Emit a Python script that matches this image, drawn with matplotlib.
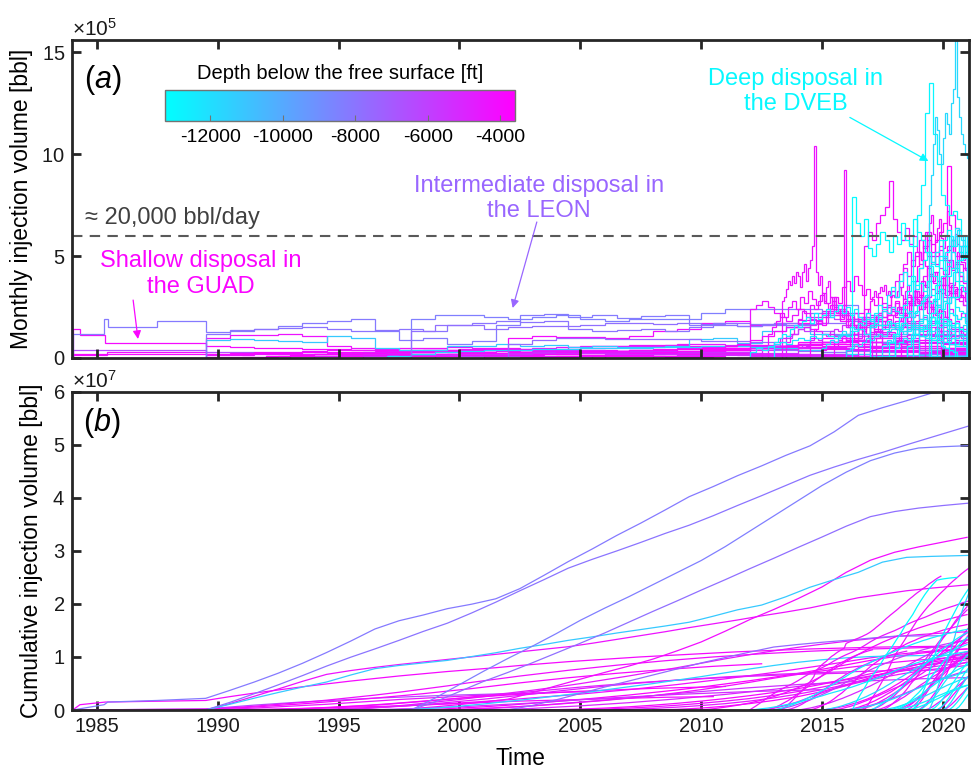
import numpy as np
import matplotlib
matplotlib.use("Agg")
import matplotlib.pyplot as plt
from matplotlib.colors import Normalize
from matplotlib.cm import ScalarMappable
from matplotlib.ticker import ScalarFormatter, MultipleLocator

plt.rcParams['font.family'] = ['Liberation Sans', 'DejaVu Sans']
plt.rcParams['mathtext.fontset'] = 'custom'
plt.rcParams['mathtext.rm'] = 'Liberation Sans'
plt.rcParams['mathtext.it'] = 'Liberation Sans:italic'
plt.rcParams['axes.unicode_minus'] = False

UNIT = 1e4          # all volumes below: 10^4 bbl per month
DATA_END = 2021.08  # last reported month

# ---------------- records before 1990 (edges [yr], monthly rate, reported volume)
a_early_edges = [1984.0, 1985.3, 1985.45, 1987.5, 1989.5]
a_early_rates = [12, 19, 15, 18]
a_early_vol = [100, 50, 30, 40]
g1_early_edges = [1984.0, 1984.3, 1985.35, 1989.5]
g1_early_rates = [14, 11.5, 7.5]
g1_early_vol = [100, 50, 30]
g2_early_edges = [1984.0, 1989.5]
g2_early_rates = [4]
g2_early_vol = [20]
g3_early_edges = [1984.0, 1985.4, 1989.5]
g3_early_rates = [1.5, 2.8]
g3_early_vol = [5, 12]
g4_early_edges = [1984.0, 1989.5]
g4_early_rates = [2]
g4_early_vol = [8]

# ---------------- LEON (intermediate) wells, yearly values
leon_a = [12.5, 13, 14, 15.5, 17, 18, 19, 13, 9, 10, 7, 8.5, 16, 21, 21.5, 20, 21, 19.5,
          20.5, 21, 16, 17, 15.5, 16.5, 15, 22, 26, 12, 11, 11.5, 4]
leon_b = [12, 13.5, 14, 14.5, 15, 14, 13, 13.5, 14, 13, 16, 17, 18, 17.5, 18, 14, 13, 13.5,
          14, 13, 15, 16, 15.5, 16, 16, 13, 12, 11, 12, 11.5, 11.5, 11.5]
leon_c = [19, 21, 21, 20, 19, 20, 21, 19, 18, 19, 19, 19, 22, 24, 24, 24, 24, 21, 18, 12,
          8, 2, 1.5, 1.5]
leon_d = [13, 16, 16, 14, 15, 15.5, 15.5, 16, 17, 17, 16.5, 17, 16.5, 17, 16.5, 17, 16.5,
          17, 15, 8, 5.5, 4, 3.5, 3.5]
leon_e = [7, 9, 10, 10, 9.5, 9.5, 9.5, 9.5, 8.5, 8.5, 8, 4, 3.5, 3, 3.5, 3, 0.5, 0.2]

# ---------------- older deep wells, yearly values
deep_c1 = [9, 9.5, 9, 8.5, 8, 11, 10, 5, 4, 4, 6, 6, 7, 6, 6.5, 5.5, 6, 5.5, 5.5, 6, 9.5,
           10, 7.5, 13, 15, 12, 11.5, 16, 7.5, 1.5, 1, 1]
deep_c2 = [1, 2, 3, 3.5, 4, 4, 4.5, 4.5, 5, 5, 5, 5.5, 5.5, 6, 6, 5.5, 5, 4, 3, 2, 1, 0.5,
           0.5, 0.5, 0.5]

# ---------------- GUAD (shallow) wells, yearly values
guad_m1 = [2, 3, 3.5, 4, 4.5, 10, 11, 10.5, 10.5, 10, 11, 13, 14, 17, 18, 16, 17, 18.5, 23,
           19, 12.5, 8.5, 7.5, 7.5]
guad_m2 = [10, 11.5, 11.5, 12, 11, 6, 5, 4.5, 4, 4, 4, 4, 4, 4, 4, 5.5, 6, 6, 6, 6.5, 6, 6,
           6.5, 6, 6.5, 8, 8, 5.5, 5.5, 4, 3.5, 3.5]
guad_g1 = [6, 5.5, 5, 5, 4.5, 4.5, 4, 4, 3.5, 3.5, 3, 3, 3.5, 3, 3, 2.5, 2.5, 2.5, 2, 2, 2, 2,
           1.5, 1.5, 1.5, 1, 1, 1, 0.5, 0.5, 0.5]
guad_g2 = [3, 3, 2.5, 2.5, 2, 2, 2, 1.5, 1.5, 1.5, 1, 1, 1, 0.5]
guad_g3 = [2, 2.5, 3, 3, 3.5, 4, 4, 4.5, 5, 5, 5.5, 5, 5, 4.5, 4.5, 4, 4, 3.5, 3.5, 3, 3, 2.5,
           2.5, 2, 2, 1.5, 1.5, 1, 1, 1, 1]
guad_g4 = [2, 2, 2.5, 2.5, 3, 3, 3, 3.5, 3.5, 4, 4, 4.5, 4.5, 4, 4, 3.5, 3.5, 3, 3, 2.5, 2.5,
           2, 2]
guad_g6 = [1, 1.5, 2, 2, 2.5, 3, 3, 3.5, 4, 4, 4.5, 5, 5.5, 6, 6, 6.5, 6.5, 7, 7, 6.5, 6, 5.5,
           5, 4.5, 4, 3.5, 3, 2.5, 2]
guad_g7 = [2, 3, 3.5, 4, 4, 4.5, 4, 4, 3.5, 3.5, 3, 3, 2.5, 2.5, 2, 2, 2, 1.5, 1.5, 1, 1]
guad_g8 = [1, 1, 1.5, 1.5, 2, 2, 2, 2.5, 2.5, 3, 3, 3, 3.5, 3.5, 4, 4, 4.5, 4.5, 5, 5, 5.5,
           5.5, 6, 6, 5, 4, 3, 2]
guad_g9 = [1, 2, 2, 2.5, 3, 3, 3, 3.5, 3.5, 4, 4, 4.5, 5, 5, 5.5, 6, 6.5, 7, 7, 6, 5, 4, 3]
guad_g10 = [1, 1.5, 2, 2, 2.5, 2.5, 3, 3, 3.5, 3.5, 4, 4, 4.5, 5, 5.5, 6, 6, 5.5, 5, 4.5]
guad_g11 = [0.5, 1, 1.5, 2, 2.5, 3, 3.5, 4, 5, 6, 7, 8, 9, 8, 7, 6, 5]
guad_g12 = [1, 1.5, 2, 2.5, 3, 4, 5, 6, 7, 8, 9, 10, 9, 8, 7]
guad_g13 = [0.5, 0.5, 0.5, 1, 1, 1, 1, 1, 1.5, 1.5, 1.5, 1.5, 1.5, 1, 1, 1, 1, 1, 1, 0.5, 0.5]
guad_g14 = [1, 2, 3, 4, 5, 6, 8, 10, 12, 11, 10, 9, 8]
guad_g15 = [2, 2, 2.5, 3, 3, 3, 3.5, 3.5, 3.5, 3, 3, 3, 2.5, 2.5, 2, 2, 2, 1.5, 1.5, 1, 1]
guad_g16 = [1.5, 1.5, 2, 2, 2, 2.5, 2.5, 2.5, 2, 2, 2, 1.5, 1.5, 1.5, 1, 1]
guad_g17 = [0.5, 1, 1.5, 2, 2, 2.5, 3, 3, 3, 2.5, 2.5, 2, 2, 2, 1.5, 1.5, 1.5, 1, 1, 1]
guad_g18 = [1, 1.5, 2, 2.5, 3, 3.5, 3.5, 4, 4, 4.5, 4, 4, 3.5, 3, 3, 2.5, 2.5, 2, 2, 1.5, 1.5,
            1, 1, 1, 0.5, 0.5]
guad_g19 = [1, 1.5, 2, 2, 2.5, 3, 3, 3.5, 4, 4.5, 5, 5.5, 6, 6.5, 6, 5.5, 5, 4.5, 4, 3.5, 3,
            2.5]
guad_g20 = [0.5, 1, 1.5, 2, 2.5, 3, 3.5, 4, 4.5, 5, 6, 7, 8, 8.5, 8, 7, 6, 5]
guad_g21 = [1, 1, 1.5, 1.5, 2, 2, 2, 2.5, 2.5, 2.5, 2, 2, 2, 1.5, 1.5, 1.5, 1, 1, 1]

# ---------------- recent shallow wells
guad_s1 = [28, 30, 34, 38, 36, 40, 37, 42,
           40, 35, 42, 46, 38, 44, 48, 55, 104, 42, 36, 40,
           32, 28, 35, 38, 30, 24, 30, 26, 22, 24, 20, 92,
           18, 15, 16, 20, 14, 16, 18, 15, 20, 17, 22, 24,
           28, 30, 33, 30, 32, 35, 33, 36, 31, 33, 30, 31,
           30, 33, 35, 31, 29, 33, 36, 31, 29, 33, 30, 28,
           27, 30, 25, 29, 31, 27, 25, 29, 26, 23, 20]           # monthly
guad_s2 = [55, 62, 58, 66, 70, 74, 87, 68, 62, 58, 64, 56, 60, 52, 48, 45, 40, 42, 38, 36,
           40, 35, 32, 34, 30, 28]                                # bi-monthly
guad_s3 = [24, 26, 28, 25, 22, 20, 18, 21, 24, 22, 19, 17, 20, 23, 21, 18, 16, 19, 22, 24,
           21, 18, 16, 15, 18, 20, 17, 15, 14, 16, 18, 15, 13, 12, 14, 12, 10]  # quarterly
guad_l1 = [6, 10, 9, 14, 13, 17, 16, 20, 19, 23, 21, 25, 28, 24, 27, 30, 26, 33, 31, 27,
           30, 34, 32, 36, 30, 27, 32, 29, 31, 26]
guad_l2 = [12, 18, 22, 27, 25, 33, 38, 35, 44, 40, 48, 52, 46, 55, 50, 47, 52, 44, 41, 48,
           43, 46, 40, 38]
guad_l3 = [18, 26, 33, 30, 41, 46, 52, 45, 50, 58, 54, 62, 56, 50, 55, 48, 53, 58, 50, 46,
           44]
guad_l4 = [4, 6, 5, 8, 9, 8, 11, 12, 10, 14, 13, 16, 15, 17, 19, 18, 21, 23, 22, 25, 24, 27,
           26, 29, 27, 25, 28, 24, 22, 24, 20, 19, 17, 18, 15, 14]
guad_l5 = [8, 14, 20, 18, 27, 33, 30, 40, 44, 38, 42, 36, 40, 33, 30, 34, 28, 26]
guad_l6 = [10, 13, 12, 16, 19, 22, 20, 25, 23, 27, 24, 29, 31, 28, 26, 24, 27, 22, 25, 21,
           19, 17, 18, 15, 14, 13, 11]
guad_l7 = [20, 30, 38, 44, 52, 58, 50, 46, 53, 49, 55, 44, 47, 40, 37]
guad_l8 = [5, 7, 6, 9, 10, 9, 12, 11, 13, 14, 13, 16, 15, 17, 16, 18, 19, 17, 20, 19, 21, 20,
           22, 21, 23, 22, 21, 22, 20, 21, 19, 20, 18, 17, 18, 16, 15, 16, 14, 13, 12, 12]
guad_l9 = [28, 36, 45, 52, 58, 62, 66, 94, 70, 64, 60, 55, 50]
guad_l10 = [5, 6, 8, 10, 11, 12, 14, 15, 14, 13, 12, 12, 11, 10, 10, 9, 9, 8, 8, 8, 7, 7, 7,
            6, 6, 6, 5, 5, 5, 5, 4, 4, 4, 4]                      # quarterly
guad_l11 = [4, 5, 6, 7, 9, 11, 13, 15, 17, 20, 22, 24, 22, 20, 18, 16, 15, 14, 12, 11, 10, 9]
guad_l12 = [10, 14, 18, 16, 21, 25, 22, 28, 26, 30, 27, 24, 28, 25, 22, 26, 23, 20, 24, 21,
            19, 22, 18]
guad_l13 = [15, 22, 28, 33, 30, 38, 35, 41, 37, 33, 39, 36, 32, 35, 30, 33, 28]
guad_l14 = [12, 20, 28, 26, 34, 31, 37, 33, 30, 35, 32]
guad_l15 = [6, 8, 11, 9, 13, 12, 15, 14, 17, 16, 14, 18, 16, 19, 17, 15, 18, 16, 14, 17, 15,
            13, 16, 14, 12, 15, 13, 11, 14, 12, 10, 12, 11]
guad_l16 = [20, 32, 41, 48, 44, 52, 47, 43]
guad_l17 = [5, 7, 9, 8, 11, 13, 12, 15, 14, 16, 15, 17, 16, 14, 15, 13, 12, 13, 11, 10]
guad_l18 = [18, 30, 36, 42, 38, 44]
guad_l19 = [12, 15, 18, 22, 20, 25, 28, 24, 30, 27, 33, 29, 26, 31, 27, 24, 28, 22, 19, 23,
            18, 16, 14, 15, 12, 10]
guad_l20 = [8, 12, 15, 19, 23, 20, 26, 24, 28, 32, 27, 30, 25, 22, 26, 21, 18, 22, 19, 16,
            18, 15, 13, 14, 12, 11, 12, 10, 9, 8]
guad_l21 = [10, 14, 18, 16, 22, 26, 30, 27, 35, 38, 33, 40, 36, 31, 34, 29, 26, 30, 25, 22,
            24, 20, 18, 21, 17, 15, 18, 14, 13, 15, 12, 11, 13, 10, 9, 11, 8, 7, 8]
guad_l22 = [6, 8, 10, 12, 14, 13, 16, 18, 17, 20, 19, 22, 21, 19, 18, 20, 17, 16, 15, 17,
            14, 13, 12, 14, 11, 10, 9, 10, 8, 7, 6, 6]             # quarterly
guad_l23 = [30, 38, 45, 52, 48, 58, 62, 55, 66, 70, 61, 57, 64, 68, 59, 54, 60, 72, 65, 58,
            52, 61, 56, 50, 55, 48, 52, 46]                        # monthly

# ---------------- DVEB (deep) wells
dveb_1 = [79, 66, 60, 68, 54, 50, 56, 62, 58, 52, 60, 56, 66, 58, 55, 68, 62, 58, 52, 45, 40,
          8, 6, 5, 4, 3]                                          # bi-monthly
dveb_2 = [55, 70, 85, 120, 135, 110, 95, 80, 75, 70, 72, 68, 60, 55]  # bi-monthly
dveb_3 = [75, 90, 105, 118, 112, 100, 95, 108, 120, 115, 110, 125, 132, 160, 128, 118, 110,
          105, 100, 98]                                           # monthly
dveb_4 = [16, 22, 26, 24, 31, 35, 30, 38, 42, 36, 40, 34, 37, 33, 38, 31, 29, 34, 28, 27,
          30, 25, 23, 22]
dveb_5 = [12, 20, 26, 33, 38, 36, 44, 48, 52, 47, 45, 50, 43, 40, 44, 38, 36, 33]
dveb_6 = [18, 30, 38, 46, 52, 58, 50, 47, 52, 44, 42, 38]
dveb_7 = [8, 12, 14, 17, 20, 23, 22, 26, 28, 31, 27, 29, 26, 24, 27, 22, 21, 19, 20, 17]
dveb_8 = [22, 36, 48, 58, 63, 55, 60, 52, 49]
dveb_9 = [28, 45, 58, 64, 55, 60]
dveb_10 = [6, 10, 12, 15, 14, 18, 20, 17, 22, 19, 18, 16, 17, 14, 13]
dveb_11 = [30, 42, 48, 55, 50]
dveb_12 = [4, 5, 7, 6, 8, 10, 9, 11, 12, 11, 13, 14, 16, 15, 17, 16, 18, 16, 15, 16, 14, 13,
           14, 12, 13, 11, 12, 10, 11, 9]
dveb_13 = [3, 5, 4, 6, 7, 8, 7, 9, 10, 9, 11, 10, 12, 11, 10, 12, 11, 13, 14, 12, 15, 16, 14,
           17, 15, 13, 14, 12, 11, 10, 9, 10, 8, 7, 6, 6]          # quarterly
dveb_14 = [25, 40, 52, 60, 55, 63, 58, 52]
dveb_15 = [30, 48, 55, 50]
dveb_16 = [5, 8, 10, 9, 12, 14, 13, 15, 17, 16, 18, 15, 17, 14, 13, 15, 12, 11]
dveb_17 = [6, 9, 8, 11, 13, 12, 14, 16, 15, 17, 19, 18, 20, 18, 17, 19, 16, 15, 17, 14, 13]
dveb_18 = [8, 10, 12, 11, 14, 16, 15, 18, 20, 17, 22, 19, 21, 24, 20, 23, 26, 22, 25, 21, 24,
           20, 18, 22, 19, 17, 20, 16, 18, 15, 17, 14, 16, 13, 15, 12, 14, 11, 13, 10, 12, 9,
           11, 8, 10, 7, 9, 6]
dveb_19 = [5, 7, 9, 8, 11, 13, 12, 15, 14, 17, 16, 19, 18, 21, 20, 23, 22, 25, 23, 21, 24, 22,
           20, 23, 19, 21, 18, 20, 17, 19, 16, 18, 15, 17, 14, 16]

# well table: (depth below free surface [ft], first year, months per value, values, early records)
wells = [
    (-4000, 1989.5, 12, guad_g1, (g1_early_edges, g1_early_rates, g1_early_vol)),
    (-6500, 1989.5, 12, guad_g2, (g2_early_edges, g2_early_rates, g2_early_vol)),
    (-4200, 1989.5, 12, guad_g3, (g3_early_edges, g3_early_rates, g3_early_vol)),
    (-3900, 1989.5, 12, guad_g4, (g4_early_edges, g4_early_rates, g4_early_vol)),
    (-4500, 1992.0, 12, guad_g6, None),
    (-4800, 1995.0, 12, guad_g7, None),
    (-4100, 1993.0, 12, guad_g8, None),
    (-3700, 1998.0, 12, guad_g9, None),
    (-5000, 2001.0, 12, guad_g10, None),
    (-4300, 2004.0, 12, guad_g11, None),
    (-4600, 2006.0, 12, guad_g12, None),
    (-4000, 1989.5, 12, guad_g13, None),
    (-3800, 2008.0, 12, guad_g14, None),
    (-5500, 2000.0, 12, guad_g15, None),
    (-4400, 1989.5, 12, guad_g16, None),
    (-3800, 1991.0, 12, guad_g17, None),
    (-4700, 1994.0, 12, guad_g18, None),
    (-4100, 1999.0, 12, guad_g19, None),
    (-3900, 2003.0, 12, guad_g20, None),
    (-5300, 1996.0, 12, guad_g21, None),
    (-4300, 1989.5, 12, guad_m2, None),
    (-4100, 1997.0, 12, guad_m1, None),
    (-11200, 1989.5, 12, deep_c1, None),
    (-11500, 1997.0, 12, deep_c2, None),
    (-8200, 1989.5, 12, leon_a, (a_early_edges, a_early_rates, a_early_vol)),
    (-8000, 1989.5, 12, leon_b, None),
    (-8400, 1998.0, 12, leon_c, None),
    (-7800, 1998.0, 12, leon_d, None),
    (-7600, 2002.0, 12, leon_e, None),
    (-4000, 2010.0, 6, guad_l11, None),
    (-4500, 2012.5, 3, guad_l10, None),
    (-4400, 2012.0, 3, guad_s3, None),
    (-5800, 2013.0, 3, guad_l22, None),
    (-5600, 2016.0, 3, guad_l17, None),
    (-4200, 2012.75, 2, guad_l19, None),
    (-4500, 2013.5, 2, guad_l20, None),
    (-5200, 2014.0, 2, guad_l8, None),
    (-3900, 2014.5, 2, guad_l21, None),
    (-3800, 2015.0, 2, guad_l4, None),
    (-4200, 2015.5, 2, guad_l15, None),
    (-4000, 2016.0, 2, guad_l1, None),
    (-4400, 2016.5, 2, guad_l6, None),
    (-4600, 2017.0, 2, guad_l2, None),
    (-4700, 2017.25, 2, guad_l12, None),
    (-4200, 2017.5, 2, guad_l3, None),
    (-4800, 2018.0, 2, guad_l5, None),
    (-3900, 2018.25, 2, guad_l13, None),
    (-4100, 2018.5, 2, guad_l7, None),
    (-4100, 2018.75, 1, guad_l23, None),
    (-3700, 2019.0, 2, guad_l9, None),
    (-4900, 2019.25, 2, guad_l14, None),
    (-4000, 2019.75, 2, guad_l16, None),
    (-4300, 2020.0, 2, guad_l18, None),
    (-4300, 2013.33, 1, guad_s1, None),
    (-4100, 2016.75, 2, guad_s2, None),
    (-12200, 2012.0, 3, dveb_13, None),
    (-12500, 2013.0, 2, dveb_18, None),
    (-11700, 2015.0, 2, dveb_19, None),
    (-11500, 2016.0, 2, dveb_12, None),
    (-11900, 2017.5, 2, dveb_17, None),
    (-12400, 2018.0, 2, dveb_16, None),
    (-13100, 2018.5, 2, dveb_10, None),
    (-12800, 2017.75, 2, dveb_7, None),
    (-12600, 2017.0, 2, dveb_4, None),
    (-13000, 2018.0, 2, dveb_5, None),
    (-12300, 2019.0, 2, dveb_6, None),
    (-13200, 2019.5, 2, dveb_8, None),
    (-12700, 2019.75, 2, dveb_14, None),
    (-12000, 2020.0, 2, dveb_9, None),
    (-12500, 2020.25, 2, dveb_11, None),
    (-13000, 2020.5, 2, dveb_15, None),
    (-13100, 2016.25, 2, dveb_1, None),
    (-12900, 2018.75, 2, dveb_2, None),
    (-11800, 2019.42, 1, dveb_3, None),
]

DEPTH_MIN, DEPTH_MAX = -13250, -3600
YEAR_TICKS = [1985, 1990, 1995, 2000, 2005, 2010, 2015, 2020]
DEPTH_TICKS = [-12000, -10000, -8000, -6000, -4000]
RATE_LINE = 20000 * 30   # ~20,000 bbl/day expressed per month


def well_series(start, hold, values, early):
    """Step edges, monthly rates and per-step volumes for one well."""
    vals = np.asarray(values, float)
    edges = start + np.arange(len(vals) + 1) * hold / 12.0
    vols = vals * hold
    if edges[-1] > DATA_END:
        frac = (DATA_END - edges[-2]) / (edges[-1] - edges[-2])
        edges[-1] = DATA_END
        vols[-1] *= frac
    if early is not None:
        e_edges, e_rates, e_vols = early
        edges = np.concatenate([e_edges[:-1], edges])
        vals = np.concatenate([e_rates, vals])
        vols = np.concatenate([e_vols, vols])
    return edges, vals * UNIT, vols * UNIT


class FixedOrderFormatter(ScalarFormatter):
    """Scalar formatter with a fixed power-of-ten multiplier."""

    def __init__(self, order):
        super().__init__(useMathText=True)
        self._fixed_order = order

    def _set_order_of_magnitude(self):
        self.orderOfMagnitude = self._fixed_order


cmap = plt.get_cmap('cool')
norm = Normalize(DEPTH_MIN, DEPTH_MAX)

fig = plt.figure(figsize=(9.74, 7.73), dpi=100)
ax_a = fig.add_axes([0.0739, 0.5369, 0.9210, 0.4114])
ax_b = fig.add_axes([0.0739, 0.0815, 0.9210, 0.4114])

for depth, start, hold, values, early in wells:
    edges, rates, vols = well_series(start, hold, values, early)
    col = cmap(norm(depth))
    ax_a.stairs(rates, edges, baseline=0, color=col, lw=0.9)
    cum = np.concatenate([[0.0], np.cumsum(vols)])
    ax_b.plot(edges, cum, color=col, lw=0.9)

ax_a.axhline(RATE_LINE, color='0.35', lw=1.5, ls=(0, (5, 3.5)))

spine_col = '#262626'
for ax, order in ((ax_a, 5), (ax_b, 7)):
    ax.set_xlim(1983.97, 2021.08)
    ax.set_xticks(YEAR_TICKS)
    ax.tick_params(direction='in', length=6.5, width=2.0, top=True, right=True,
                   labelsize=14.5, color=spine_col, labelcolor='#1a1a1a', pad=5)
    for sp in ax.spines.values():
        sp.set_linewidth(2.0)
        sp.set_color(spine_col)
    ax.yaxis.set_major_formatter(FixedOrderFormatter(order))
    ax.yaxis.get_offset_text().set_fontsize(15)

ax_a.set_ylim(0, 15.6e5)
ax_a.yaxis.set_major_locator(MultipleLocator(5e5))
ax_a.tick_params(labelbottom=False)
ax_b.set_ylim(0, 6e7)
ax_b.yaxis.set_major_locator(MultipleLocator(1e7))

ax_a.set_ylabel('Monthly injection volume [bbl]', fontsize=16.5, labelpad=6)
ax_b.set_ylabel('Cumulative injection volume [bbl]', fontsize=16.5, labelpad=7)
ax_b.set_xlabel('Time', fontsize=16.5, labelpad=8)

ax_a.text(0.013, 0.874, r'($\mathit{a}$)', transform=ax_a.transAxes, fontsize=22,
          ha='left', va='center')
ax_b.text(0.012, 0.9025, r'($\mathit{b}$)', transform=ax_b.transAxes, fontsize=22,
          ha='left', va='center')

# annotations
ax_a.text(1984.5, 6.86e5, '\u2248 20,000 bbl/day', color='0.25', fontsize=17,
          ha='left', va='center')
c_shallow = cmap(0.98)
c_mid = cmap(0.6)
c_deep = cmap(0.03)
ax_a.text(1989.3, 4.12e5, 'Shallow disposal in\nthe GUAD', color=c_shallow, fontsize=17,
          ha='center', va='center')
ax_a.annotate('', xy=(1986.7, 0.93e5), xytext=(1986.5, 2.84e5),
              arrowprops=dict(arrowstyle='-|>', color=c_shallow, lw=0.9,
                              mutation_scale=12, shrinkA=0, shrinkB=0))
ax_a.text(2003.3, 7.82e5, 'Intermediate disposal in\nthe LEON', color=c_mid, fontsize=17,
          ha='center', va='center')
ax_a.annotate('', xy=(2002.2, 2.45e5), xytext=(2003.2, 6.67e5),
              arrowprops=dict(arrowstyle='-|>', color=c_mid, lw=0.9,
                              mutation_scale=12, shrinkA=0, shrinkB=0))
ax_a.text(2013.9, 13.06e5, 'Deep disposal in\nthe DVEB', color=c_deep, fontsize=17,
          ha='center', va='center')
ax_a.annotate('', xy=(2019.4, 9.66e5), xytext=(2016.15, 11.8e5),
              arrowprops=dict(arrowstyle='-|>', color=c_deep, lw=0.9,
                              mutation_scale=12, shrinkA=0, shrinkB=0))

# depth colour bar
cax = fig.add_axes([165 / 974, 1 - 121 / 773, 350 / 974, 31 / 773])
cb = fig.colorbar(ScalarMappable(norm=norm, cmap=cmap), cax=cax, orientation='horizontal')
cb.set_ticks(DEPTH_TICKS)
cax.tick_params(direction='in', length=4, width=0.8, color='0.45', labelsize=14, pad=6)
cb.outline.set_edgecolor('0.45')
cb.outline.set_linewidth(1.0)
cax.set_title('Depth below the free surface [ft]', fontsize=14.5, pad=8)

fig.savefig('out.png', dpi=100)
